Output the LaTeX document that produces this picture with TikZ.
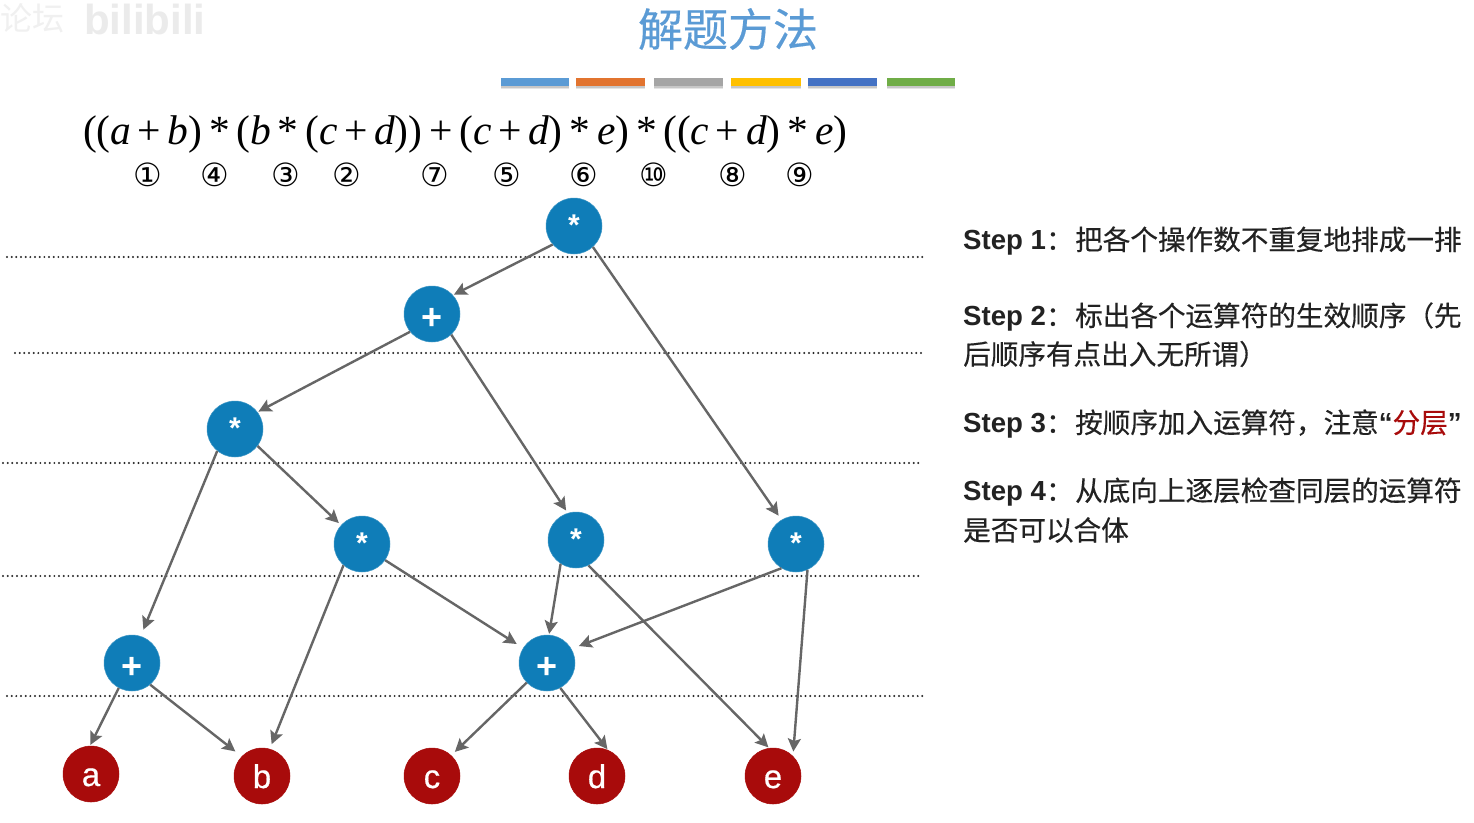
\documentclass[tikz,border=0pt]{standalone}
\usepackage{fontspec}
\setmainfont{Liberation Sans}
\newfontfamily\cjk[FakeBold=0.35]{Noto Sans CJK SC}
\newfontfamily\cjkplain{Noto Sans CJK SC}
\newfontfamily\frm{Liberation Serif}
\newfontfamily\circfont{DejaVu Sans}
\newfontfamily\leaffont[FakeBold=0.5]{Liberation Sans}
\usetikzlibrary{arrows.meta,calc}
\definecolor{opblue}{HTML}{0F7DB8}
\definecolor{leafred}{HTML}{A80B0B}
\definecolor{edgegray}{HTML}{666666}
\definecolor{titleblue}{HTML}{5B9BD5}
\definecolor{txt}{HTML}{222222}
\tikzset{
  x=1pt,y=-1pt,
  opnode/.style={circle,fill=opblue,draw=opblue!80!white,line width=.5pt,minimum size=56pt,inner sep=0pt,text=white,font=\fontsize{30}{30}\selectfont\bfseries},
  leafnode/.style={circle,fill=leafred,draw=leafred,line width=.5pt,minimum size=56pt,inner sep=0pt,text=white,font=\leaffont\fontsize{33}{33}\selectfont},
  edgeline/.style={draw=edgegray,line width=2.4pt,-{Stealth[length=13pt,width=13pt,inset=2.5pt]},shorten >=1pt},
  far/.style={shorten >=#1},
  layerline/.style={draw=black!85,line width=2.2pt,line cap=round,dash pattern=on 0pt off 4.67pt},
  bshadow/.style={fill=black!22,draw=none},
  steptext/.style={anchor=west,inner sep=0pt,text=txt,font=\fontsize{27.6}{27.6}\selectfont},
  circnum/.style={inner sep=0pt,text=black,font=\circfont\fontsize{32}{32}\selectfont},
}
\newcommand{\stp}[1]{\makebox[112pt][l]{{\bfseries Step #1}{\cjk：}}}
\newcommand{\starsym}{\smash{\raisebox{-9.5pt}{*}}}
\newcommand{\plussym}{\fontsize{36}{36}\selectfont\smash{\raisebox{-15pt}{+}}}
\newcommand{\leafsym}[1]{\smash{\raisebox{-12pt}{#1}}}
\begin{document}
\begin{tikzpicture}
\useasboundingbox (0,0) rectangle (1474,822);
\fill[white] (0,0) rectangle (1474,822);
% watermark
\node[inner sep=0pt,anchor=west,text=black!6,font=\cjkplain\fontsize{32}{32}\selectfont] (wm1) at (0,18) {论坛};
\node[inner sep=0pt,anchor=west,text=black!8,font=\bfseries\fontsize{42}{42}\selectfont] (wm2) at (84,19) {bilibili};
% title
\node[inner sep=0pt,text=titleblue,font=\cjk\fontsize{45}{45}\selectfont] (title) at (728,29) {解题方法};
% bars
\foreach \x/\w/\c in {501/68/5B9BD5,576/69/E2742F,654/69/A5A5A5,731/70/FFC000,808/69/4472C4,887/68/70AD47}{
  \fill[black!10] (\x,84) rectangle ++(\w,5);
  \fill[bshadow] (\x,84) rectangle ++(\w,3.5);
  \definecolor{barc}{HTML}{\c}
  \fill[barc] (\x,78) rectangle ++(\w,8);
}
% formula
\node[inner sep=0pt,font=\frm\fontsize{41.5}{41.5}\selectfont,anchor=center] (formula) at (465,135) {\addfontfeature{LetterSpace=-1}((\textit{a}\,+\,\textit{b})\,*\,(\textit{b}\,*\,(\textit{c}\,+\,\textit{d}))\,+\,(\textit{c}\,+\,\textit{d})\,*\,\textit{e})\,*\,((\textit{c}\,+\,\textit{d})\,*\,\textit{e})};
% order numbers
\node[circnum] (n1) at (148,175) {①};
\node[circnum] (n4) at (215,175) {④};
\node[circnum] (n3) at (286,175) {③};
\node[circnum] (n2) at (347,175) {②};
\node[circnum] (n7) at (435,175) {⑦};
\node[circnum] (n5) at (507,175) {⑤};
\node[circnum] (n6) at (584,175) {⑥};
\node[circnum] (n10) at (654,175) {⑩};
\node[circnum] (n8) at (733,175) {⑧};
\node[circnum] (n9) at (800,175) {⑨};
% layer lines
\draw[layerline] (7,257) -- (923,257);
\draw[layerline] (15,353) -- (923,353);
\draw[layerline] (3,463) -- (920,463);
\draw[layerline] (3,576) -- (920,576);
\draw[layerline] (7,696) -- (923,696);
% nodes
\node[opnode] (r) at (574,226) {\starsym};
\node[opnode] (p1) at (432,314) {\plussym};
\node[opnode] (m1) at (235,429) {\starsym};
\node[opnode] (m2) at (362,544) {\starsym};
\node[opnode] (m3) at (576,540) {\starsym};
\node[opnode] (m4) at (796,544) {\starsym};
\node[opnode] (p2) at (132,663) {\plussym};
\node[opnode] (p3) at (547,663) {\plussym};
\node[leafnode] (a) at (91,774) {\leafsym{a}};
\node[leafnode] (b) at (262,776) {\leafsym{b}};
\node[leafnode] (c) at (432,776) {\leafsym{c}};
\node[leafnode] (d) at (597,776) {\leafsym{d}};
\node[leafnode] (e) at (773,776) {\leafsym{e}};
% edges
\draw[edgeline] (r.221) -- (p1.42);
\draw[edgeline,far=5pt] (r.312) -- (m4.121);
\draw[edgeline] (p1.219) -- (m1.37);
\draw[edgeline,far=3pt] (p1.313) -- (m3.107);
\draw[edgeline,far=7pt] (m1.231) -- (p2.72);
\draw[edgeline,far=3pt] (m1.323) -- (m2.138);
\draw[edgeline,far=5pt] (m2.229) -- (b.74);
\draw[edgeline,far=7.5pt] (m2.325) -- (p3.148);
\draw[edgeline] (m3.237) -- (p3.86);
\draw[edgeline] (m3.296) -- (e.98);
\draw[edgeline,far=8pt] (m4.239) -- (p3.30);
\draw[edgeline,far=4.5pt] (m4.294) -- (e.45);
\draw[edgeline] (p2.242) -- (a.92);
\draw[edgeline,far=8pt] (p2.310) -- (b.136);
\draw[edgeline,far=5pt] (p3.224) -- (c.47);
\draw[edgeline] (p3.298) -- (d.67);
% steps
\node[steptext] (s1) at (963,241) {\stp{1}\cjk 把各个操作数不重复地排成一排};
\node[steptext] (s2a) at (963,317) {\stp{2}\cjk 标出各个运算符的生效顺序（先};
\node[steptext] (s2b) at (963,354) {\cjk 后顺序有点出入无所谓）};
\node[steptext] (s3) at (963,424) {\stp{3}\cjk 按顺序加入运算符，注意{\rmfamily\bfseries “}\textcolor{leafred}{分层}{\rmfamily\bfseries ”}};
\node[steptext] (s4a) at (963,492) {\stp{4}\cjk 从底向上逐层检查同层的运算符};
\node[steptext] (s4b) at (963,530) {\cjk 是否可以合体};
\end{tikzpicture}
\end{document}
